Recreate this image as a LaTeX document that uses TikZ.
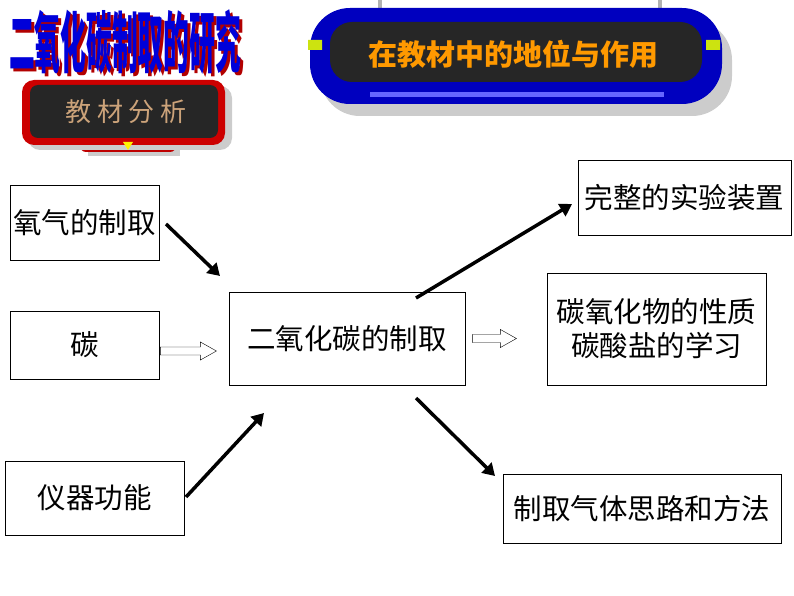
\documentclass[tikz,border=0pt]{standalone}
\usepackage{fontspec}
\setmainfont{Noto Sans CJK SC}
\usetikzlibrary{arrows.meta}
\begin{document}
\begin{tikzpicture}[x=1pt,y=-1pt,
  box/.style={draw, thick, fill=white, font=\fontsize{28.5}{34}\selectfont, inner sep=0pt},
  bigarrow/.style={line width=3.5pt, -{Triangle[length=12pt,width=14pt]}},
  hollowarrow/.pic={\draw[thin, fill=white] (0,-4) -- (#1-16,-4) -- (#1-16,-9) -- (#1,0) -- (#1-16,9) -- (#1-16,4) -- (0,4) -- cycle;}]
\useasboundingbox (0,0) rectangle (794,596);
% title
\node[font=\fontsize{46}{46}\selectfont\bfseries, text=red!70!black, xscale=0.56, yscale=1.45] at (128,45) {二氧化碳制取的研究};
\node[font=\fontsize{46}{46}\selectfont\bfseries, text=blue!85!black, xscale=0.56, yscale=1.45] (title) at (125,42) {二氧化碳制取的研究};
% tab
\fill[gray!40] (88,130) rectangle (180,156);
\fill[red!75!black, rounded corners=6pt] (80,128) rectangle (176,152);
\fill[gray!40, rounded corners=12pt] (28,86) rectangle (232,150);
\fill[red!80!black, rounded corners=12pt] (22,80) rectangle (225,145);
\fill[black!85, rounded corners=8pt] (30,85) rectangle (218,138);
\node[font=\fontsize{26}{26}\selectfont, text=orange!40!white!80!black] (tab) at (126,112) {教 材 分 析};
\fill[yellow] (123,142) -- (133,142) -- (128,150) -- cycle;
% banner
\draw[line width=4pt, gray!60] (380,0) -- (380,12) (660,0) -- (660,12);
\fill[gray!40, rounded corners=40pt] (320,20) rectangle (732,116);
\fill[blue!75!black, rounded corners=40pt] (310,8) rectangle (722,104);
\fill[black!85, rounded corners=22pt] (330,22) rectangle (702,82);
\fill[blue!60] (370,92) rectangle (664,97);
\fill[yellow!80!green] (308,40) rectangle (322,50) (706,40) rectangle (720,50);
\node[font=\fontsize{29}{29}\selectfont\bfseries, text=orange!80!yellow] (banner) at (513,54) {在教材中的地位与作用};
% boxes
\node[box, minimum width=149pt, minimum height=75pt] (oxy) at (84.5,222.5) {氧气的制取};
\node[box, minimum width=149pt, minimum height=68pt] (carbon) at (84.5,345) {碳};
\node[box, minimum width=179pt, minimum height=74pt] (inst) at (94.5,498) {仪器功能};
\node[box, minimum width=236pt, minimum height=93pt] (co2) at (347,338.5) {二氧化碳的制取};
\node[box, minimum width=213pt, minimum height=75pt] (device) at (684.5,197.5) {完整的实验装置};
\node[box, minimum width=219pt, minimum height=112pt, align=center] (prop) at (656.5,329) {碳氧化物的性质\\碳酸盐的学习};
\node[box, minimum width=278pt, minimum height=69pt] (method) at (642,508.5) {制取气体思路和方法};
% arrow ends
\coordinate (a1) at (166,224); \coordinate (b1) at (220,276);
\coordinate (a2) at (186,497); \coordinate (b2) at (264,413);
\coordinate (a3) at (416,298); \coordinate (b3) at (572,204);
\coordinate (a4) at (416,398); \coordinate (b4) at (495,476);
\draw[bigarrow] (a1) -- (b1);
\draw[bigarrow] (a2) -- (b2);
\draw[bigarrow] (a3) -- (b3);
\draw[bigarrow] (a4) -- (b4);
\pic at ([xshift=1pt,yshift=-6pt]carbon.east) {hollowarrow=56};
\pic at ([xshift=7pt]co2.east) {hollowarrow=44};
\end{tikzpicture}
\end{document}
